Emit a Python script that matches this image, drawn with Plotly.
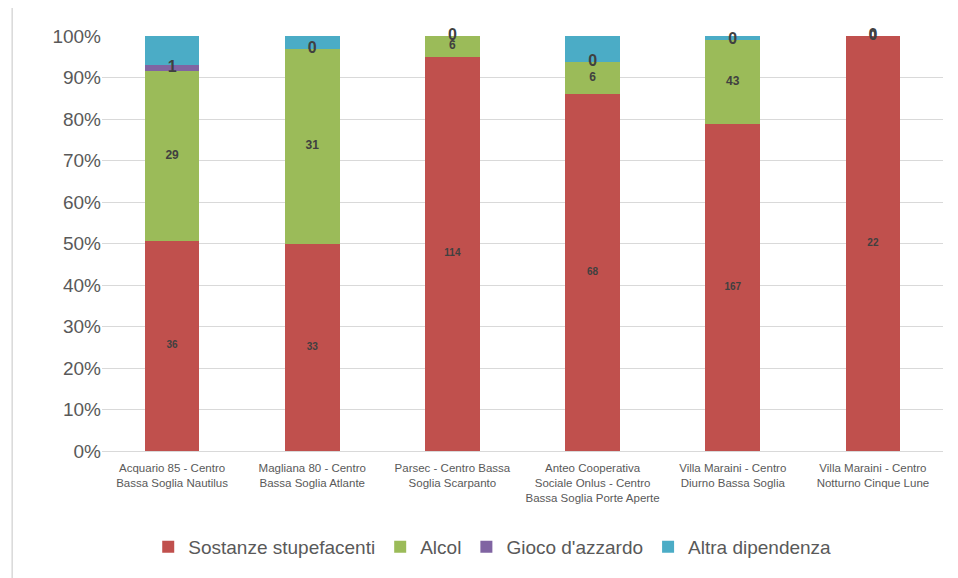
import plotly.graph_objects as go

categories = [
    "Acquario 85 - Centro<br>Bassa Soglia Nautilus",
    "Magliana 80 - Centro<br>Bassa Soglia Atlante",
    "Parsec - Centro Bassa<br>Soglia Scarpanto",
    "Anteo Cooperativa<br>Sociale Onlus - Centro<br>Bassa Soglia Porte Aperte",
    "Villa Maraini - Centro<br>Diurno Bassa Soglia",
    "Villa Maraini - Centro<br>Notturno Cinque Lune",
]
sostanze = [36, 33, 114, 68, 167, 22]
alcol = [29, 31, 6, 6, 43, 0]
gioco = [1, 0, 0, 0, 0, 0]
altra = [5, 2, 0, 5, 2, 0]

series = [
    ("Sostanze stupefacenti", sostanze, "#C0504D", 10),
    ("Alcol", alcol, "#9BBB59", 12),
    ("Gioco d'azzardo", gioco, "#8064A2", 16),
    ("Altra dipendenza", altra, "#4BACC6", None),
]

totals = [sum(v) for v in zip(sostanze, alcol, gioco, altra)]
xs = list(range(len(categories)))

FONT = "Liberation Sans Narrow, Liberation Sans, Arial"

fig = go.Figure()
cum = [0.0] * len(categories)
for name, vals, color, fsize in series:
    pct = [v / t * 100 for v, t in zip(vals, totals)]
    fig.add_trace(go.Bar(
        x=xs, y=pct, name=name, marker=dict(color=color, line=dict(width=0)),
        hoverinfo="skip",
    ))
    mids = [c + p / 2 for c, p in zip(cum, pct)]
    if fsize:
        fig.add_trace(go.Scatter(
            x=xs, y=mids, mode="text", text=[str(v) for v in vals],
            textfont=dict(size=fsize, color="#404040", family="Liberation Sans, Arial"),
            texttemplate="<b>%{text}</b>", showlegend=False, hoverinfo="skip",
            cliponaxis=False,
        ))
    cum = [c + p for c, p in zip(cum, pct)]

fig.update_layout(
    barmode="stack",
    bargap=0.61,
    width=950, height=570,
    margin=dict(l=94, r=15, t=28, b=125),
    plot_bgcolor="white", paper_bgcolor="white",
    font=dict(family=FONT, color="#595959"),
    showlegend=True,
    legend=dict(orientation="h", x=0.464, xanchor="center", y=-0.185, yanchor="top",
                font=dict(size=19, family=FONT, color="#595959"),
                traceorder="normal", itemwidth=30),
    xaxis=dict(tickmode="array", tickvals=xs, ticktext=categories,
               tickfont=dict(size=11.5, color="#595959"),
               showline=True, linecolor="#d9d9d9", linewidth=1,
               range=[-0.5, len(categories) - 0.5], ticks="",
               ticklabelstandoff=6),
    yaxis=dict(range=[0, 100], dtick=10, ticksuffix="%",
               tickfont=dict(size=19, color="#595959", family=FONT),
               showgrid=True, gridcolor="#d9d9d9", gridwidth=1, zeroline=False,
               ticks="", ticklen=0),
    shapes=[dict(type="rect", xref="paper", yref="paper",
                 x0=-0.1068, x1=1.2, y0=-0.4, y1=1.0723,
                 line=dict(color="#d9d9d9", width=1.5), layer="below")],
)

fig.write_html("out.html")
